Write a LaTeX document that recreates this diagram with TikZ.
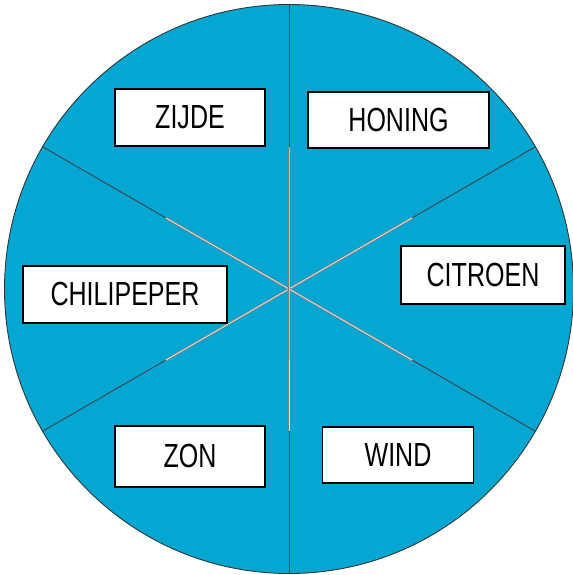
\documentclass[tikz,border=0pt]{standalone}
\usepackage{fontspec}
\setmainfont[FakeStretch=0.75]{Liberation Sans}
\usetikzlibrary{positioning,calc}
\definecolor{wheelblue}{RGB}{4,167,209}

\begin{document}
\begin{tikzpicture}[
    wheel/.style={draw=black!80, line width=0.5pt, fill=wheelblue},
    spoke/.style={draw=black!75, line width=0.5pt},
    hub/.style={draw=black!50, double=gray!25, double distance=0.5pt, line width=0.45pt},
    label/.style={rectangle, draw, line width=1.1pt, fill=white, inner sep=0pt, font=\fontsize{19}{21}\selectfont}
]
\useasboundingbox (0,0) rectangle (11.44,-11.5);

% Wheel
\coordinate (c) at (5.78,-5.78);
\draw[wheel] (c) circle (5.69);

% Spokes
\coordinate (s30) at ($(c)+(30:5.69)$);
\coordinate (s90) at ($(c)+(90:5.69)$);
\coordinate (s150) at ($(c)+(150:5.69)$);
\coordinate (s210) at ($(c)+(210:5.69)$);
\coordinate (s270) at ($(c)+(270:5.69)$);
\coordinate (s330) at ($(c)+(330:5.69)$);
\draw[spoke] (c) -- (s30);
\draw[spoke] (c) -- (s90);
\draw[spoke] (c) -- (s150);
\draw[spoke] (c) -- (s210);
\draw[spoke] (c) -- (s270);
\draw[spoke] (c) -- (s330);
\draw[hub] ($(c)!0.5!(s30)$) -- (c) -- ($(c)!0.5!(s210)$);
\draw[hub] ($(c)!0.5!(s150)$) -- (c) -- ($(c)!0.5!(s330)$);
\draw[hub] ($(c)!0.5!(s90)$) -- (c) -- ($(c)!0.5!(s270)$);

% Labels
\node[label, minimum width=3cm, minimum height=1.13cm] (zijde) at (3.8,-2.35) {ZIJDE};
\node[label, minimum width=3.62cm, minimum height=1.12cm] (honing) at (7.97,-2.4) {HONING};
\node[label, minimum width=3.28cm, minimum height=1.16cm] (citroen) at (9.66,-5.5) {CITROEN};
\node[label, minimum width=4.08cm, minimum height=1.14cm] (chili) at (2.5,-5.89) {CHILIPEPER};
\node[label, minimum width=3cm, minimum height=1.22cm] (zon) at (3.8,-9.13) {ZON};
\node[label, minimum width=3.02cm, minimum height=1.12cm] (wind) at (7.96,-9.1) {WIND};

\end{tikzpicture}
\end{document}
